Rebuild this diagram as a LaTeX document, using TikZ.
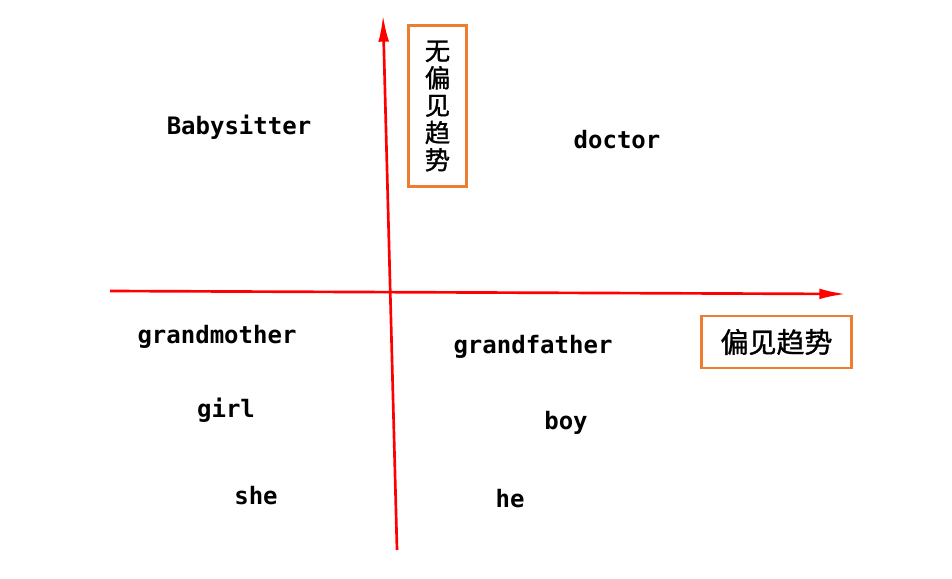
\documentclass[tikz,border=0pt]{standalone}
\usepackage{fontspec}
\setmonofont{DejaVu Sans Mono}
\newfontfamily\cjk[FakeBold=1.2]{Noto Sans CJK SC}
\usetikzlibrary{arrows.meta}
\definecolor{boxorange}{RGB}{237,125,49}
\tikzset{
  word/.style={font=\ttfamily\bfseries\fontsize{18}{20}\selectfont},
  trendbox/.style={draw=boxorange,line width=2.2pt,inner sep=0pt},
  axis/.style={red,line width=2pt,-{Latex[length=20pt,width=8pt]}}
}
\begin{document}
\begin{tikzpicture}[x=0.75pt,y=-0.75pt]
  \useasboundingbox (0,0) rectangle (952,578);
  % axes
  \coordinate (ybot) at (397,550);
  \coordinate (ytop) at (383,15);
  \coordinate (xleft) at (110,291);
  \coordinate (xright) at (846,294);
  \draw[axis] (xleft) -- (xright);
  \draw[axis] (ybot) -- (ytop);
  % boxes
  \node[trendbox,minimum width=44pt,minimum height=121pt,align=center,
        font=\cjk\fontsize{19}{20.5}\selectfont] (unbiased) at (437.5,106)
        {无\\偏\\见\\趋\\势};
  \node[trendbox,minimum width=113pt,minimum height=39pt,
        font=\cjk\fontsize{21}{24}\selectfont] (biased) at (776.5,342) {偏见趋势};
  % words
  \node[word] (babysitter) at (239,127) {Babysitter};
  \node[word] (doctor) at (617,140) {doctor};
  \node[word] (grandmother) at (217,337) {grandmother};
  \node[word] (grandfather) at (533,347) {grandfather};
  \node[word] (girl) at (226,410) {girl};
  \node[word] (boy) at (566,423) {boy};
  \node[word] (she) at (256,496) {she};
  \node[word] (he) at (510,499) {he};
\end{tikzpicture}
\end{document}
